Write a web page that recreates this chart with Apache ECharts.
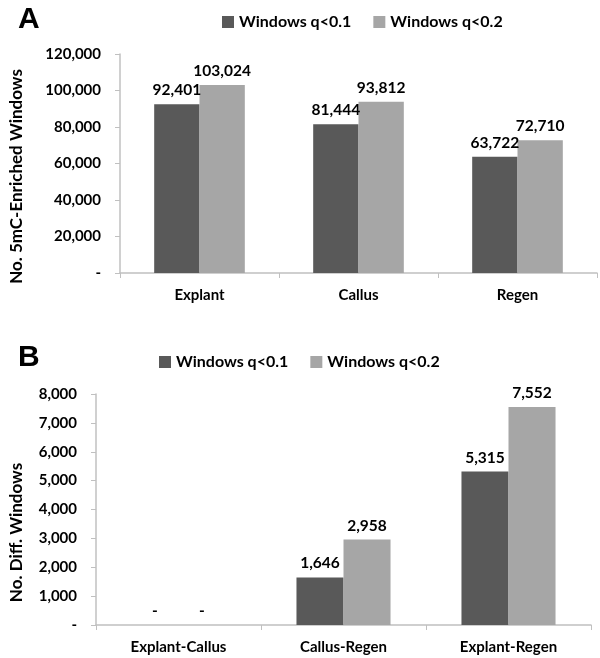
<!DOCTYPE html>
<html>
<head>
<meta charset="utf-8">
<script src="https://cdn.jsdelivr.net/npm/echarts@6/dist/echarts.min.js"></script>
<style>
  html, body { margin: 0; padding: 0; background: #fff; }
  #chart { width: 600px; height: 658px; }
</style>
</head>
<body>
<div id="chart"></div>
<script>
// panel A
var categoriesA = ["Explant", "Callus", "Regen"];
var q01A = [92401, 81444, 63722];
var q02A = [103024, 93812, 72710];
// panel B
var categoriesB = ["Explant-Callus", "Callus-Regen", "Explant-Regen"];
var q01B = [0, 1646, 5315];
var q02B = [0, 2958, 7552];

var seriesNames = ["Windows q<0.1", "Windows q<0.2"];
var darkColor = "#595959";
var lightColor = "#a6a6a6";
var axisColor = "#c0c0c0";
var font = "Lato";

// excel style: zero shows as "-"
function fmt(v) {
  return v === 0 ? "-" : Number(v).toLocaleString("en-US");
}

var labelStyle = {
  show: true,
  position: "top",
  distance: 6,
  color: "#000",
  fontFamily: font,
  fontWeight: "bold",
  fontSize: 15.5,
  formatter: function (p) { return fmt(p.value); }
};

function xAxisFor(idx, data) {
  return {
    type: "category",
    gridIndex: idx,
    data: data,
    axisLine: { lineStyle: { color: axisColor, width: 1.5 } },
    axisTick: { show: true, length: 5, lineStyle: { color: axisColor } },
    axisLabel: {
      margin: 15,
      color: "#000",
      fontFamily: font,
      fontWeight: "bold",
      fontSize: 15
    }
  };
}

function yAxisFor(idx, max, interval, name, gap, shift) {
  return {
    type: "value",
    gridIndex: idx,
    min: 0,
    max: max,
    interval: interval,
    name: name,
    nameLocation: "middle",
    nameGap: gap,
    nameTextStyle: {
      color: "#000",
      fontFamily: font,
      fontWeight: "bold",
      fontSize: 17,
      padding: [0, shift, 0, 0]
    },
    splitLine: { show: false },
    axisLine: { show: true, lineStyle: { color: axisColor, width: 1.5 } },
    axisTick: { show: true, length: 5, lineStyle: { color: axisColor } },
    axisLabel: {
      margin: 19,
      color: "#000",
      fontFamily: font,
      fontWeight: "bold",
      fontSize: 15,
      formatter: fmt
    }
  };
}

function bar(name, color, axisIdx, data) {
  return {
    name: name,
    type: "bar",
    xAxisIndex: axisIdx,
    yAxisIndex: axisIdx,
    data: data,
    barGap: "0%",
    barCategoryGap: "43%",
    itemStyle: { color: color },
    label: labelStyle
  };
}

var legendText = {
  color: "#000",
  fontFamily: font,
  fontWeight: "bold",
  fontSize: 16
};

var myChart = echarts.init(document.getElementById("chart"));
myChart.setOption({
  animation: false,
  title: [
    {
      text: "A", left: 13, top: 0,
      textStyle: { fontFamily: "Liberation Sans", fontWeight: "bold", fontSize: 30, color: "#000" }
    },
    {
      text: "B", left: 13, top: 338,
      textStyle: { fontFamily: "Liberation Sans", fontWeight: "bold", fontSize: 30, color: "#000" }
    }
  ],
  legend: [
    {
      data: seriesNames, left: 217, top: 9, icon: "rect",
      itemWidth: 12, itemHeight: 12, itemGap: 22,
      textStyle: legendText
    },
    {
      data: seriesNames, left: 154, top: 349, icon: "rect",
      itemWidth: 12, itemHeight: 12, itemGap: 22,
      textStyle: legendText
    }
  ],
  grid: [
    { left: 117, top: 54, width: 480, height: 219 },
    { left: 93, top: 394, width: 498, height: 231 }
  ],
  xAxis: [xAxisFor(0, categoriesA), xAxisFor(1, categoriesB)],
  yAxis: [
    yAxisFor(0, 120000, 20000, "No. 5mC-Enriched Windows", 95, 26),
    yAxisFor(1, 8000, 1000, "No. Diff. Windows", 71, 46)
  ],
  series: [
    bar(seriesNames[0], darkColor, 0, q01A),
    bar(seriesNames[1], lightColor, 0, q02A),
    bar(seriesNames[0], darkColor, 1, q01B),
    bar(seriesNames[1], lightColor, 1, q02B)
  ]
});
window.addEventListener("resize", function () {
  myChart.resize();
});
</script>
</body>
</html>
